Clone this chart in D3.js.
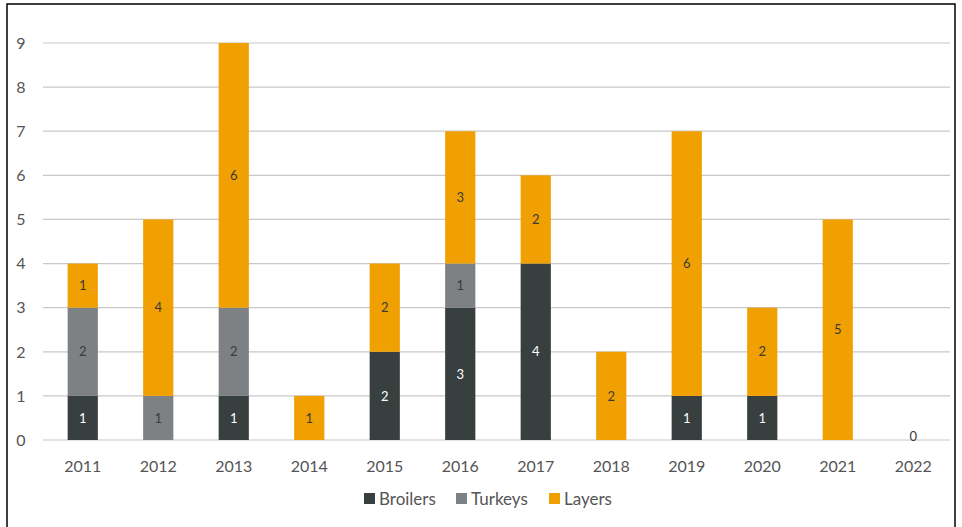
<!DOCTYPE html>
<html>
<head>
<meta charset="utf-8">
<script src="https://cdn.jsdelivr.net/npm/d3@7"></script>
<style>
  html, body { margin: 0; padding: 0; background: #fff; }
  svg { display: block; }
  text { font-family: Lato, "Open Sans", sans-serif; }
</style>
</head>
<body>
<svg id="chart" width="962" height="527"></svg>
<script>
const years = ["2011","2012","2013","2014","2015","2016","2017","2018","2019","2020","2021","2022"];
const broilers = [1, 0, 1, 0, 2, 3, 4, 0, 1, 1, 0, 0];
const turkeys  = [2, 1, 2, 0, 0, 1, 0, 0, 0, 0, 0, 0];
const layers   = [1, 4, 6, 1, 2, 3, 2, 2, 6, 2, 5, 0];
const seriesNames = ["Broilers", "Turkeys", "Layers"];
const yTicks = [0, 1, 2, 3, 4, 5, 6, 7, 8, 9];

const colors = { Broilers: "#373f3f", Turkeys: "#7e8184", Layers: "#f0a000" };
const labelColors = { Broilers: "#ffffff", Turkeys: "#3a3a3a", Layers: "#3a3a3a" };

const rows = years.map((y, i) => ({ year: y, Broilers: broilers[i], Turkeys: turkeys[i], Layers: layers[i] }));

const svg = d3.select("#chart");
const gridLeft = 43, gridRight = 950;

const x = d3.scaleBand().domain(years).range([45, 951]).paddingInner(0.6).paddingOuter(0.3);
const y = d3.scaleLinear().domain([0, 9]).range([440, 43]);

// frame
svg.append("rect").attr("x", 7).attr("y", 4).attr("width", 948).attr("height", 540)
  .attr("fill", "none").attr("stroke", "#000").attr("stroke-width", 1.5);

// gridlines
svg.append("g").selectAll("line").data(yTicks).join("line")
  .attr("x1", gridLeft).attr("x2", gridRight)
  .attr("y1", d => y(d)).attr("y2", d => y(d))
  .attr("stroke", "#c8c8c8").attr("stroke-width", 1.2);

// y tick labels
svg.append("g").selectAll("text").data(yTicks).join("text")
  .attr("x", 21).attr("y", d => y(d)).attr("dy", "0.36em")
  .attr("text-anchor", "middle").attr("font-size", 16).attr("fill", "#555")
  .text(d => d);

// x tick labels
svg.append("g").selectAll("text").data(years).join("text")
  .attr("x", d => x(d) + x.bandwidth() / 2).attr("y", 466).attr("dy", "0.36em")
  .attr("text-anchor", "middle").attr("font-size", 16).attr("fill", "#555")
  .text(d => d);

// stacked bars
const stack = d3.stack().keys(seriesNames)(rows);
const layer = svg.append("g").selectAll("g").data(stack).join("g")
  .attr("fill", d => colors[d.key]);

layer.selectAll("rect").data(d => d.map(v => ({ key: d.key, v }))).join("rect")
  .attr("x", d => x(d.v.data.year))
  .attr("y", d => y(d.v[1]))
  .attr("width", x.bandwidth())
  .attr("height", d => y(d.v[0]) - y(d.v[1]));

// value labels
const labels = svg.append("g");
stack.forEach(s => {
  s.forEach(v => {
    const val = v[1] - v[0];
    if (val > 0) {
      labels.append("text")
        .attr("x", x(v.data.year) + x.bandwidth() / 2)
        .attr("y", (y(v[0]) + y(v[1])) / 2).attr("dy", "0.36em")
        .attr("text-anchor", "middle").attr("font-size", 13)
        .attr("fill", labelColors[s.key])
        .text(val);
    }
  });
});
// zero total label
rows.forEach(r => {
  const total = r.Broilers + r.Turkeys + r.Layers;
  if (total === 0) {
    labels.append("text")
      .attr("x", x(r.year) + x.bandwidth() / 2).attr("y", y(0) - 4).attr("dy", "0.36em")
      .attr("text-anchor", "middle").attr("font-size", 13).attr("fill", "#3a3a3a")
      .text(total);
  }
});

// legend
const legendX = [364, 456, 549];
const legend = svg.append("g");
seriesNames.forEach((name, i) => {
  legend.append("rect").attr("x", legendX[i]).attr("y", 493).attr("width", 11).attr("height", 11)
    .attr("fill", colors[name]);
  legend.append("text").attr("x", legendX[i] + 15).attr("y", 499).attr("dy", "0.36em")
    .attr("font-size", 17).attr("fill", "#555").text(name);
});
</script>
</body>
</html>
